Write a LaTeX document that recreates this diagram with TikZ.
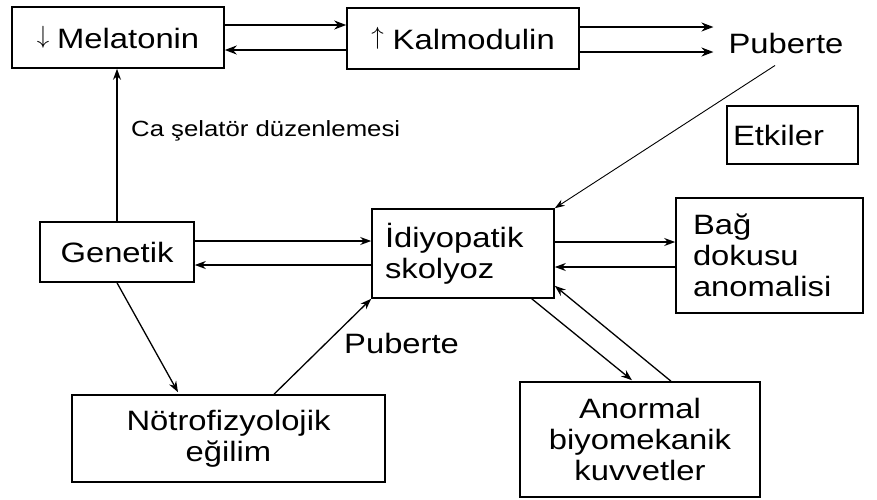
\documentclass[tikz,border=0pt]{standalone}
\usepackage{fontspec}
\setmainfont[FakeStretch=1.17]{Liberation Sans}
\usetikzlibrary{arrows.meta}
\newcommand{\smallarr}[1]{{\fontsize{24}{24}\selectfont\raisebox{0.19em}{$#1$}}}
\begin{document}
\begin{tikzpicture}[x=1pt,y=-1pt,
  box/.style={draw,line width=1.6pt,inner sep=0pt,font=\fontsize{28}{31}\selectfont},
  lbl/.style={inner sep=0pt,font=\fontsize{28}{31}\selectfont},
  arr/.style={-{Stealth[length=11pt,width=8pt]},line width=1.3pt},
  thinarr/.style={-{Stealth[length=10pt,width=7pt]},line width=0.9pt},
  thickarr/.style={-{Stealth[length=12pt,width=9pt]},line width=1.8pt}]
\useasboundingbox (0,0) rectangle (877,499);

% boxes
\node[box,minimum width=212pt,minimum height=61pt] (mel) at (118,37.5)
  {\smallarr{\downarrow}\hspace{8pt}Melatonin};
\node[box,minimum width=232pt,minimum height=61pt] (kal) at (463,38.5)
  {\smallarr{\uparrow}\hspace{9pt}Kalmodulin};
\node[lbl,anchor=base] (pub1) at (786,53) {Puberte};
\node[box,minimum height=58pt,text width=119pt,inner xsep=6pt,align=left] (etk) at (792.5,135) {Etkiler};
\node[box,minimum width=154pt,minimum height=60pt] (gen) at (117,252) {Genetik};
\node[box,minimum height=89pt,text width=156pt,inner xsep=13pt,align=left] (idi) at (463,253.5)
  {İdiyopatik\\skolyoz};
\node[box,minimum height=115pt,text width=153pt,inner xsep=17pt,align=left] (bag) at (769.5,255.5)
  {Bağ\\dokusu\\anomalisi};
\node[box,minimum width=313pt,minimum height=87pt,align=center] (not) at (228.5,438.5)
  {Nötrofizyolojik\\eğilim};
\node[box,minimum width=240pt,minimum height=115pt,align=center] (ano) at (640,439.5)
  {Anormal\\biyomekanik\\kuvvetler};

% labels
\node[inner sep=0pt,anchor=base west,font=\fontsize{22}{22}\selectfont] (ca) at (131,136) {Ca şelatör düzenlemesi};
\node[lbl,anchor=base west] (pub2) at (344,353) {Puberte};

% connectors
\draw[thickarr] (mel.east |- 0,25) -- (kal.west |- 0,25);
\draw[thickarr] (kal.west |- 0,50) -- (mel.east |- 0,50);
\draw[thickarr,shorten >=15pt] (kal.east |- 0,27) -- (pub1.west |- 0,27);
\draw[thickarr,shorten >=15pt] (kal.east |- 0,52) -- (pub1.west |- 0,52);
\draw[thinarr] ([xshift=-11pt,yshift=-12pt]pub1.south) -- (idi.north east);
\draw[arr] (gen.north) -- (gen.north |- mel.south);
\draw[arr] (gen.east |- 0,241) -- (idi.west |- 0,241);
\draw[arr] (idi.west |- 0,265) -- (gen.east |- 0,265);
\draw[arr] (idi.east |- 0,242) -- (bag.west |- 0,242);
\draw[arr] (bag.west |- 0,267) -- (idi.east |- 0,267);
\draw[arr] (gen.south) -- ([xshift=-50.5pt,yshift=2pt]not.north);
\draw[arr] ([xshift=45.5pt]not.north) -- (idi.south west);
\draw[arr] ([xshift=-23pt]idi.south east) -- ([xshift=-8pt,yshift=1pt]ano.north);
\draw[arr] ([xshift=31pt]ano.north) -- ([yshift=13pt]idi.south east);
\end{tikzpicture}
\end{document}
